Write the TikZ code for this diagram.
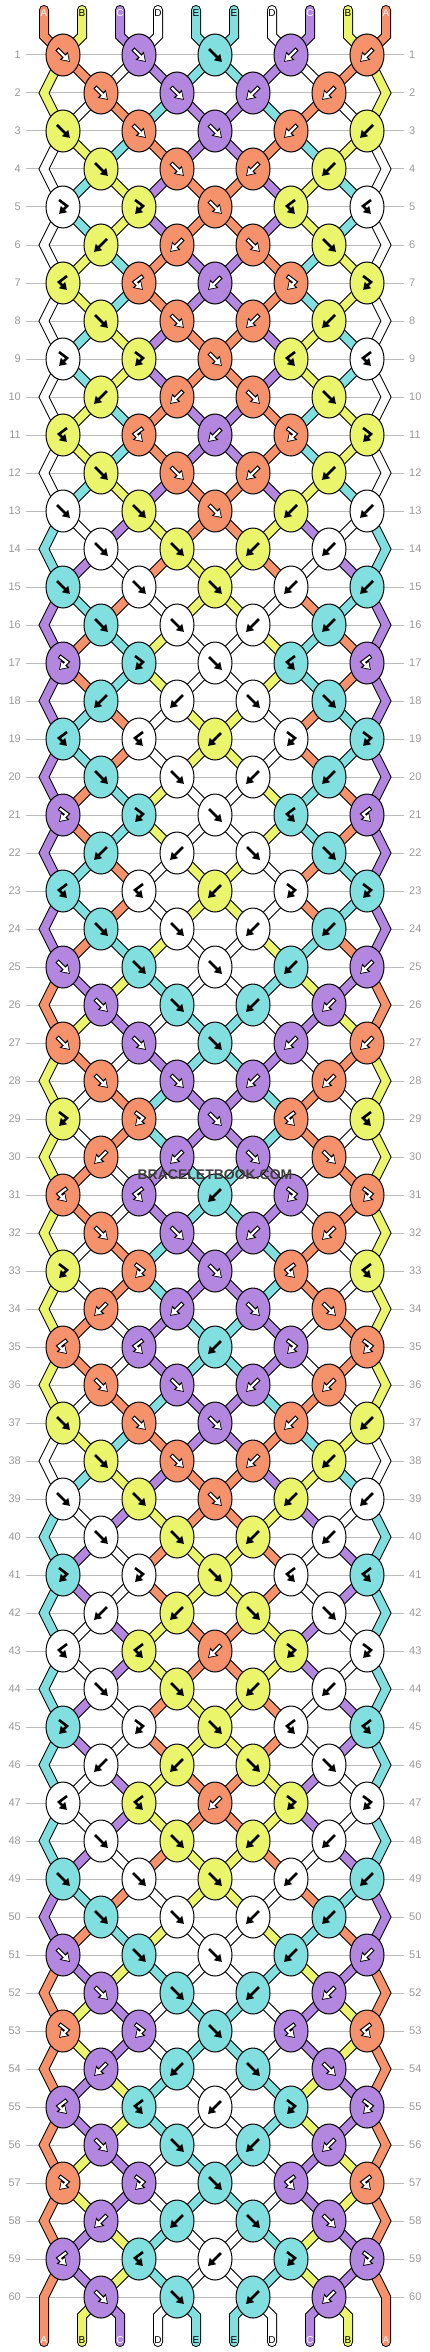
\documentclass[tikz,border=0pt]{standalone}
\usepackage{fontspec}
\setmainfont{Liberation Sans}
\usetikzlibrary{shapes.geometric}
\usetikzlibrary{arrows.meta}

\definecolor{cA}{HTML}{F5916B}
\definecolor{cB}{HTML}{EAF56B}
\definecolor{cC}{HTML}{B386DF}
\definecolor{cD}{HTML}{FFFFFF}
\definecolor{cE}{HTML}{82DFDF}
\definecolor{rowgray}{HTML}{BBBBBB}
\definecolor{numgray}{HTML}{999999}

% dark threads get a white arrow
\def\darkA{1}\def\darkB{0}\def\darkC{1}\def\darkD{0}\def\darkE{0}

% arrow shapes: forward, backward, forward-backward, backward-forward
\def\gF{(-6,-6) -- (7,7)}
\def\gB{(6,-6) -- (-7,7)}
\def\gFB{(-4,-7) -- (4,-1) -- (-4,7)}
\def\gBF{(4,-7) -- (-4,-1) -- (4,7)}

\tikzset{
    knot/.style = {ellipse, draw=black, line width=1pt, minimum width=34pt, minimum height=42pt, inner sep=0pt, fill=#1},
    thread/.style = {draw=black, line width=1pt, double=#1, double distance=8pt, line cap=round},
    rowline/.style = {draw=rowgray, line width=1pt},
    rownum/.style = {text=numgray, font=\fontsize{11}{11}\selectfont, inner ysep=0pt, inner xsep=5pt},
    strlabel/.style = {text=#1, font=\fontsize{10}{10}\selectfont, inner sep=0pt},
    glyphout/.style = {draw=black, line width=4.4pt, -{Triangle[length=9pt,width=11pt]}},
    glyphin/.style = {draw=#1, line width=2.2pt, -{Triangle[length=6pt,width=7.5pt]}, shorten >=1.6pt, shorten <=1.1pt},
    glyphblk/.style = {draw=black, line width=2.6pt, -{Triangle[length=7pt,width=8.5pt]}},
    wmark/.style = {text=black!75, font=\bfseries\fontsize{14}{14}\selectfont}
}

\begin{document}
\begin{tikzpicture}[x=1pt, y=-1pt]
  \useasboundingbox[fill=white] (0,0) rectangle (430,2352);

  % row guides
  \foreach \r in {1,...,60}{
    \pgfmathsetmacro\yy{55+38*(\r-1)}
    \node[rownum, anchor=east] (ln-\r) at (26,\yy) {\r};
    \node[rownum, anchor=west] (rn-\r) at (404,\yy) {\r};
    \draw[rowline] (ln-\r.east) -- (rn-\r.west);
  }

  % where each string passes in each row
  \foreach \i in {1,...,10}{
    \pgfmathsetmacro\xx{44+38*(\i-1)}
    \coordinate (t-\i) at (\xx,10);
    \coordinate (p-0-\i) at (\xx,36);
    \coordinate (p-61-\i) at (\xx,2316);
    \coordinate (b-\i) at (\xx,2342);
    \foreach \r in {1,...,60}{
      \pgfmathsetmacro\px{44+38*(\i-1)+ifthenelse(and(mod(\r,2)==0,or(\i==1,\i==10)),0,ifthenelse(mod(\i+\r,2)==0,19,-19))}
      \pgfmathsetmacro\py{55+38*(\r-1)}
      \coordinate (p-\r-\i) at (\px,\py);
    }
  }

  % threads, colour of every string below each row
  \foreach \st [count=\r from 0] in {
      {A,B,C,D,E,E,D,C,B,A},{B,A,D,C,E,E,C,D,A,B},{B,D,A,E,C,C,E,A,D,B},{D,B,E,A,C,C,A,E,B,D},
      {D,E,B,C,A,A,C,B,E,D},{D,E,B,C,A,A,C,B,E,D},{D,B,E,A,C,C,A,E,B,D},{D,B,E,A,C,C,A,E,B,D},
      {D,E,B,C,A,A,C,B,E,D},{D,E,B,C,A,A,C,B,E,D},{D,B,E,A,C,C,A,E,B,D},{D,B,E,A,C,C,A,E,B,D},
      {D,E,B,C,A,A,C,B,E,D},{E,D,C,B,A,A,B,C,D,E},{E,C,D,A,B,B,A,D,C,E},{C,E,A,D,B,B,D,A,E,C},
      {C,A,E,B,D,D,B,E,A,C},{C,A,E,B,D,D,B,E,A,C},{C,E,A,D,B,B,D,A,E,C},{C,E,A,D,B,B,D,A,E,C},
      {C,A,E,B,D,D,B,E,A,C},{C,A,E,B,D,D,B,E,A,C},{C,E,A,D,B,B,D,A,E,C},{C,E,A,D,B,B,D,A,E,C},
      {C,A,E,B,D,D,B,E,A,C},{A,C,B,E,D,D,E,B,C,A},{A,B,C,D,E,E,D,C,B,A},{B,A,D,C,E,E,C,D,A,B},
      {B,D,A,E,C,C,E,A,D,B},{B,D,A,E,C,C,E,A,D,B},{B,A,D,C,E,E,C,D,A,B},{B,A,D,C,E,E,C,D,A,B},
      {B,D,A,E,C,C,E,A,D,B},{B,D,A,E,C,C,E,A,D,B},{B,A,D,C,E,E,C,D,A,B},{B,A,D,C,E,E,C,D,A,B},
      {B,D,A,E,C,C,E,A,D,B},{D,B,E,A,C,C,A,E,B,D},{D,E,B,C,A,A,C,B,E,D},{E,D,C,B,A,A,B,C,D,E},
      {E,C,D,A,B,B,A,D,C,E},{E,C,D,A,B,B,A,D,C,E},{E,D,C,B,A,A,B,C,D,E},{E,D,C,B,A,A,B,C,D,E},
      {E,C,D,A,B,B,A,D,C,E},{E,C,D,A,B,B,A,D,C,E},{E,D,C,B,A,A,B,C,D,E},{E,D,C,B,A,A,B,C,D,E},
      {E,C,D,A,B,B,A,D,C,E},{C,E,A,D,B,B,D,A,E,C},{C,A,E,B,D,D,B,E,A,C},{A,C,B,E,D,D,E,B,C,A},
      {A,B,C,D,E,E,D,C,B,A},{A,B,C,D,E,E,D,C,B,A},{A,C,B,E,D,D,E,B,C,A},{A,C,B,E,D,D,E,B,C,A},
      {A,B,C,D,E,E,D,C,B,A},{A,B,C,D,E,E,D,C,B,A},{A,C,B,E,D,D,E,B,C,A},{A,C,B,E,D,D,E,B,C,A},
      {A,B,C,D,E,E,D,C,B,A}}{
    \pgfmathtruncatemacro\ra{\r+1}
    \pgfmathtruncatemacro\rb{\r+2}
    \pgfmathtruncatemacro\rodd{mod(\r,2)}
    \foreach \kc [count=\i] in \st {
      \pgfmathtruncatemacro\edge{or(\i==1,\i==10)}
      \ifnum\r=0
        \draw[thread=c\kc] (t-\i) -- (p-0-\i) -- (p-1-\i);
      \else
        \ifnum\edge=1
          \ifnum\rodd=1
            \ifnum\r=59
              \draw[thread=c\kc] (p-59-\i) -- (p-60-\i) -- (b-\i);
            \else
              \draw[thread=c\kc] (p-\r-\i) -- (p-\ra-\i) -- (p-\rb-\i);
            \fi
          \fi
        \else
          \ifnum\r=60
            \draw[thread=c\kc] (p-60-\i) -- (p-61-\i) -- (b-\i);
          \else
            \draw[thread=c\kc] (p-\r-\i) -- (p-\ra-\i);
          \fi
        \fi
      \fi
    }
  }

  % knots, colour/kind per row
  \foreach \kn [count=\r] in {
      {A/F,C/F,E/F,C/B,A/B},{A/F,C/F,C/B,A/B},{B/F,A/F,C/F,A/B,B/B},{B/F,A/F,A/B,B/B},
      {D/FB,B/FB,A/F,B/BF,D/BF},{B/B,A/B,A/F,B/F},{B/BF,A/BF,C/B,A/FB,B/FB},{B/F,A/F,A/B,B/B},
      {D/FB,B/FB,A/F,B/BF,D/BF},{B/B,A/B,A/F,B/F},{B/BF,A/BF,C/B,A/FB,B/FB},{B/F,A/F,A/B,B/B},
      {D/F,B/F,A/F,B/B,D/B},{D/F,B/F,B/B,D/B},{E/F,D/F,B/F,D/B,E/B},{E/F,D/F,D/B,E/B},
      {C/FB,E/FB,D/F,E/BF,C/BF},{E/B,D/B,D/F,E/F},{E/BF,D/BF,B/B,D/FB,E/FB},{E/F,D/F,D/B,E/B},
      {C/FB,E/FB,D/F,E/BF,C/BF},{E/B,D/B,D/F,E/F},{E/BF,D/BF,B/B,D/FB,E/FB},{E/F,D/F,D/B,E/B},
      {C/F,E/F,D/F,E/B,C/B},{C/F,E/F,E/B,C/B},{A/F,C/F,E/F,C/B,A/B},{A/F,C/F,C/B,A/B},
      {B/FB,A/FB,C/F,A/BF,B/BF},{A/B,C/B,C/F,A/F},{A/BF,C/BF,E/B,C/FB,A/FB},{A/F,C/F,C/B,A/B},
      {B/FB,A/FB,C/F,A/BF,B/BF},{A/B,C/B,C/F,A/F},{A/BF,C/BF,E/B,C/FB,A/FB},{A/F,C/F,C/B,A/B},
      {B/F,A/F,C/F,A/B,B/B},{B/F,A/F,A/B,B/B},{D/F,B/F,A/F,B/B,D/B},{D/F,B/F,B/B,D/B},
      {E/FB,D/FB,B/F,D/BF,E/BF},{D/B,B/B,B/F,D/F},{D/BF,B/BF,A/B,B/FB,D/FB},{D/F,B/F,B/B,D/B},
      {E/FB,D/FB,B/F,D/BF,E/BF},{D/B,B/B,B/F,D/F},{D/BF,B/BF,A/B,B/FB,D/FB},{D/F,B/F,B/B,D/B},
      {E/F,D/F,B/F,D/B,E/B},{E/F,D/F,D/B,E/B},{C/F,E/F,D/F,E/B,C/B},{C/F,E/F,E/B,C/B},
      {A/FB,C/FB,E/F,C/BF,A/BF},{C/B,E/B,E/F,C/F},{C/BF,E/BF,D/B,E/FB,C/FB},{C/F,E/F,E/B,C/B},
      {A/FB,C/FB,E/F,C/BF,A/BF},{C/B,E/B,E/F,C/F},{C/BF,E/BF,D/B,E/FB,C/FB},{C/F,E/F,E/B,C/B}}{
    \foreach \kc/\kt [count=\j] in \kn {
      \pgfmathtruncatemacro\ii{2*\j-mod(\r,2)}
      \node[knot=c\kc] (k-\r-\j) at (p-\r-\ii) {};
      \expandafter\let\expandafter\gpath\csname g\kt\endcsname
      \ifnum\csname dark\kc\endcsname=1
        \draw[glyphout, shift={(k-\r-\j)}] \gpath;
        \draw[glyphin=white, shift={(k-\r-\j)}] \gpath;
      \else
        \draw[glyphblk, shift={(k-\r-\j)}] \gpath;
      \fi
    }
  }

  % string names at both ends
  \foreach \kc [count=\i] in {A,B,C,D,E,E,D,C,B,A}{
    \def\lc{black}
    \ifnum\csname dark\kc\endcsname=1 \def\lc{white}\fi
    \node[strlabel=\lc] (tl-\i) at ([yshift=-3pt]t-\i) {\kc};
    \node[strlabel=\lc] (bl-\i) at ([yshift=2pt]b-\i) {\kc};
  }

  \node[wmark] (wm) at (215,1175) {BRACELETBOOK.COM};
\end{tikzpicture}
\end{document}
